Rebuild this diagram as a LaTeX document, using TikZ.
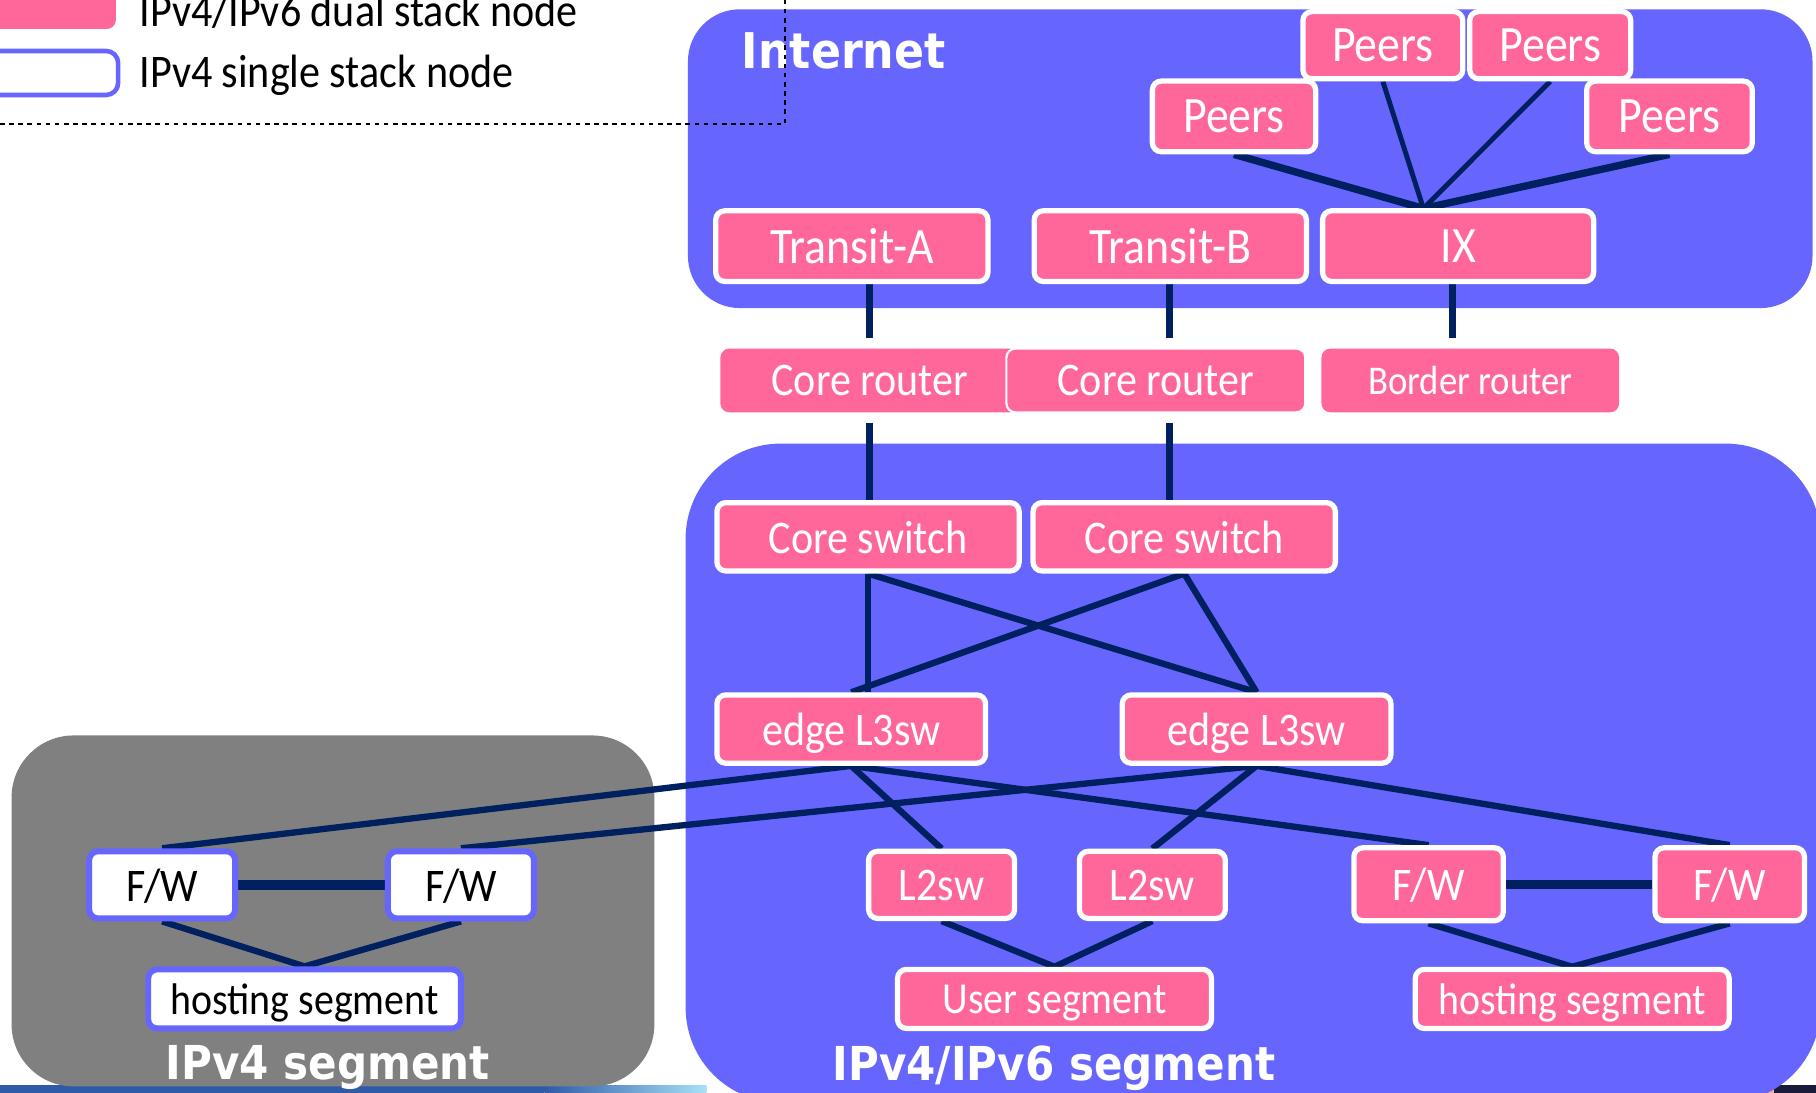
\documentclass[tikz,border=0pt]{standalone}
\usepackage{fontspec}
\setmainfont{Carlito}[FakeStretch=0.9]
\newfontfamily\hdfont{DejaVu Sans}[FakeStretch=0.9]
\definecolor{pinkc}{HTML}{FF6699}
\definecolor{bluec}{HTML}{6666FF}
\definecolor{navyc}{HTML}{002060}
\definecolor{grayc}{HTML}{808080}
\definecolor{stripeblue}{HTML}{2F5AA8}
\definecolor{stripecyan}{HTML}{22B4E8}
\definecolor{peachc}{HTML}{F2B08A}
\definecolor{darkc}{HTML}{1A1A3A}
\pgfdeclarelayer{bglayer}
\pgfdeclarelayer{linklayer}
\pgfsetlayers{bglayer,linklayer,main}
\newcommand\bx[7]{%
  \pgfmathsetmacro\bxw{(#4-#2)*0.1158}%
  \pgfmathsetmacro\bxh{(#5-#3)*0.1158}%
  \node[#1, minimum width=\bxw mm, minimum height=\bxh mm] (#6) at ({(#2+#4)/2},{(#3+#5)/2}) {#7};}
\tikzset{
  boxbase/.style={rectangle, rounded corners=0.9mm, inner sep=0pt, align=center, text depth=0pt},
  pinknode/.style={boxbase, fill=pinkc, draw=white, line width=1.5pt, text=white},
  flatnode/.style={boxbase, fill=pinkc, text=white},
  vfournode/.style={boxbase, fill=white, draw=bluec, line width=1.7pt, text=black},
  fbig/.style={font=\fontsize{14.5}{16}\selectfont},
  fmid/.style={font=\fontsize{13.3}{15}\selectfont},
  fseg/.style={font=\fontsize{12.6}{14}\selectfont},
  fsmall/.style={font=\fontsize{11.6}{13}\selectfont},
  link/.style={navyc, line width=1.8pt},
  peerlink/.style={navyc, line width=1.4pt},
  peerlinkb/.style={navyc, line width=2.1pt},
  uplink/.style={navyc, line width=2.1pt},
  fwlink/.style={navyc, line width=2.7pt},
  regtitle/.style={text=white, font=\hdfont\bfseries\fontsize{13.3}{15}\selectfont, inner sep=0pt},
}
\begin{document}
\begin{tikzpicture}[x=0.1158mm, y=-0.1158mm]
\useasboundingbox (0,0) rectangle (1568,943);

\begin{pgfonlayer}{bglayer}
\fill[white] (0,0) rectangle (1568,943);
% footer stripe
\fill[stripeblue] (0,937) rectangle (470,945);
\shade[left color=stripeblue, right color=stripecyan!40] (470,937) rectangle (610,945);
\fill[peachc] (1490,937) rectangle (1532,945);
\fill[darkc] (1532,937) rectangle (1570,945);
% regions
\fill[bluec, rounded corners=5.2mm] (594,8) rectangle (1565,266);
\fill[bluec, rounded corners=9.5mm] (592,383) rectangle (1572,952);
\fill[grayc, rounded corners=6.2mm] (10,635) rectangle (565,938);
\end{pgfonlayer}

% region titles
\node[regtitle, anchor=west, font=\hdfont\bfseries\fontsize{14}{16}\selectfont] (inet) at (640,44) {Internet};
\node[regtitle] (segfour) at (283,922) {IPv4 segment};
\node[regtitle] (segsix) at (910,922) {IPv4/IPv6 segment};

% legend
\bx{flatnode}{-12}{-20}{100}{25}{legpink}{}
\bx{vfournode, line width=1.3pt, rounded corners=1.2mm}{-12}{44}{102}{82}{legwhite}{}
\node[fmid, anchor=west, inner sep=0pt] (legtxta) at (120,10) {IPv4/IPv6 dual stack node};
\node[fmid, anchor=west, inner sep=0pt] (legtxtb) at (120,65) {IPv4 single stack node};

% coordinates for vertical up-links
\coordinate (xa) at (751,0);
\coordinate (xb) at (1010,0);
\coordinate (xc) at (1254,0);
\coordinate (ixtop) at (1229,180);

% nodes
\bx{pinknode, fbig}{1125}{10}{1263}{68}{pa}{Peers}
\bx{pinknode, fbig}{1269}{10}{1408}{68}{pb}{Peers}
\bx{pinknode, fbig}{995}{70}{1136}{131}{pc}{Peers}
\bx{pinknode, fbig}{1370}{70}{1513}{131}{pd}{Peers}
\bx{pinknode, fbig}{618}{182}{853}{243}{ta}{Transit-A}
\bx{pinknode, fbig}{893}{182}{1128}{243}{tb}{Transit-B}
\bx{pinknode, fbig}{1142}{182}{1376}{243}{ix}{IX}
\bx{flatnode, fmid}{622}{301}{880}{356}{cra}{Core router}
\bx{flatnode, fmid, draw=white, line width=0.6pt}{869}{301}{1127}{356}{crb}{Core router}
\bx{flatnode, fsmall}{1141}{301}{1398}{356}{brr}{Border router}
\bx{pinknode, fmid}{619}{434}{880}{493}{csa}{Core switch}
\bx{pinknode, fmid}{892}{434}{1153}{493}{csb}{Core switch}
\bx{pinknode, fmid}{619}{600}{851}{659}{ela}{edge L3sw}
\bx{pinknode, fmid}{969}{600}{1201}{659}{elb}{edge L3sw}
\bx{pinknode, fmid}{750}{735}{876}{793}{lta}{L2sw}
\bx{pinknode, fmid}{932}{735}{1058}{793}{ltb}{L2sw}
\bx{pinknode, fmid}{1169}{732}{1298}{795}{fpa}{F/W}
\bx{pinknode, fmid}{1429}{732}{1558}{795}{fpb}{F/W}
\bx{pinknode, fseg}{775}{837}{1046}{888}{useg}{User segment}
\bx{pinknode, fseg}{1222}{837}{1493}{888}{hsegp}{hosting segment}
\bx{vfournode, fmid}{77}{735}{203}{793}{fva}{F/W}
\bx{vfournode, fmid}{335}{735}{461}{793}{fvb}{F/W}
\bx{vfournode, fseg}{128}{837}{398}{888}{hsegv}{hosting segment}

% links
\begin{pgfonlayer}{linklayer}
\draw[peerlinkb] (pc.south) -- (ixtop);
\draw[peerlink] (pa.south) -- (ixtop);
\draw[peerlink] (pb.south) -- (ixtop);
\draw[peerlinkb] (pd.south) -- (ixtop);
\draw[uplink] (ta.south -| xa) -- ([yshift=0.95mm]cra.north -| xa);
\draw[uplink] (tb.south -| xb) -- ([yshift=0.95mm]crb.north -| xb);
\draw[uplink] (ix.south -| xc) -- ([yshift=0.95mm]brr.north -| xc);
\draw[uplink] ([yshift=-0.95mm]cra.south -| xa) -- (csa.north -| xa);
\draw[uplink] ([yshift=-0.95mm]crb.south -| xb) -- (csb.north -| xb);
\draw[link] (csa.south) -- (csa.south |- ela.north);
\draw[link] (csa.south) -- (elb.north);
\draw[link] (csb.south) -- (ela.north);
\draw[link] (csb.south) -- (elb.north);
\draw[link] (ela.south) -- (fva.north);
\draw[link] (elb.south) -- (fvb.north);
\draw[link] (ela.south) -- (lta.north);
\draw[link] (elb.south) -- (ltb.north);
\draw[link] (ela.south) -- (fpa.north);
\draw[link] (elb.south) -- (fpb.north);
\draw[fwlink] (fva.east) -- (fvb.west);
\draw[fwlink] (fpa.east) -- (fpb.west);
\draw[link] (fva.south) -- (hsegv.north);
\draw[link] (fvb.south) -- (hsegv.north);
\draw[link] (lta.south) -- (useg.north);
\draw[link] (ltb.south) -- (useg.north);
\draw[link] (fpa.south) -- (hsegp.north);
\draw[link] (fpb.south) -- (hsegp.north);
\end{pgfonlayer}

% dashed legend frame
\draw[black, line width=0.5pt, dash pattern=on 1.3pt off 1.3pt] (0,107) -- (678,107) -- (678,-2);
\end{tikzpicture}
\end{document}
